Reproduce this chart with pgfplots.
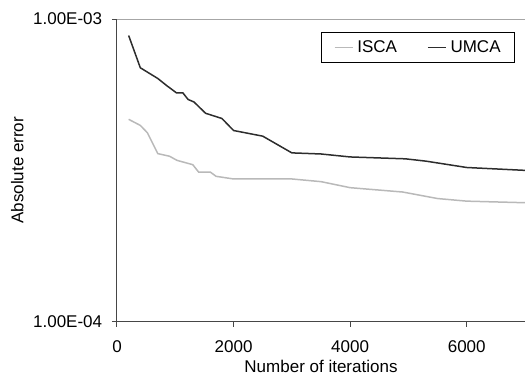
\documentclass[border=0pt]{standalone}
\usepackage{fontspec}
\setmainfont{Liberation Sans}
\usepackage{pgfplots}
\pgfplotsset{compat=1.18}
\definecolor{iscacol}{RGB}{185,185,185}
\definecolor{umcacol}{RGB}{45,45,45}
\definecolor{axiscol}{RGB}{70,70,70}
\begin{document}
\fontsize{17}{20}\selectfont
\begin{tikzpicture}
\useasboundingbox (-117pt,-57pt) rectangle (408pt,321.5pt);
\begin{semilogyaxis}[
  at={(0,0)}, anchor=south west,
  scale only axis, width=408pt, height=302.5pt,
  xmin=0, xmax=7000, ymin=1e-4, ymax=1e-3,
  xtick={0,2000,4000,6000},
  ytick={1e-4,1e-3}, yticklabels={1.00E-04,1.00E-03},
  yminorticks=false,
  axis x line*=bottom, axis y line*=left,
  axis line style={draw=axiscol, line width=1pt, -},
  tick style={draw=axiscol, line width=1pt},
  tick align=outside, major tick length=5pt,
  ymajorgrids, grid style={draw=gray!70, line width=0.8pt},
  /pgf/number format/assume math mode=true,
  scaled x ticks=false,
  xticklabel style={/pgf/number format/1000 sep={}, yshift=-8pt},
  yticklabel style={xshift=-4pt},
  tick label style={font=\fontsize{17}{20}\selectfont},
  label style={font=\fontsize{17}{20}\selectfont},
  xlabel={Number of iterations},
  ylabel={Absolute error},
  xlabel style={yshift=4pt},
  ylabel style={yshift=-2pt},
  legend columns=2,
  legend style={at={(1,1)}, xshift=-10pt, yshift=-13pt, anchor=north east,
    draw=black, line width=0.8pt, font=\fontsize{17}{20}\selectfont,
    inner xsep=12pt, inner ysep=6pt,
    /tikz/every odd column/.append style={column sep=2pt},
    /tikz/every even column/.append style={column sep=28pt}},
  legend image code/.code={\draw[#1, line width=1.5pt] (0pt,0pt) -- (18pt,0pt);},
]
\addplot[iscacol, line width=1.5pt] coordinates {
(200,4.66e-4) (400,4.45e-4) (520,4.21e-4) (700,3.59e-4) (900,3.52e-4)
(1030,3.41e-4) (1300,3.30e-4) (1400,3.12e-4) (1600,3.12e-4) (1700,3.02e-4)
(2000,2.96e-4) (3000,2.96e-4) (3500,2.90e-4) (4000,2.77e-4) (4900,2.68e-4)
(5500,2.55e-4) (6000,2.50e-4) (7000,2.47e-4)
};
\addlegendentry{ISCA}
\addplot[umcacol, line width=1.5pt] coordinates {
(200,8.82e-4) (400,6.90e-4) (700,6.36e-4) (850,6.03e-4) (1020,5.70e-4)
(1130,5.70e-4) (1220,5.42e-4) (1320,5.32e-4) (1520,4.88e-4) (1800,4.69e-4)
(2000,4.28e-4) (2500,4.10e-4) (3000,3.61e-4) (3500,3.58e-4) (4000,3.50e-4)
(4950,3.45e-4) (5300,3.39e-4) (6000,3.23e-4) (7000,3.16e-4)
};
\addlegendentry{UMCA}
\end{semilogyaxis}
\end{tikzpicture}
\end{document}
